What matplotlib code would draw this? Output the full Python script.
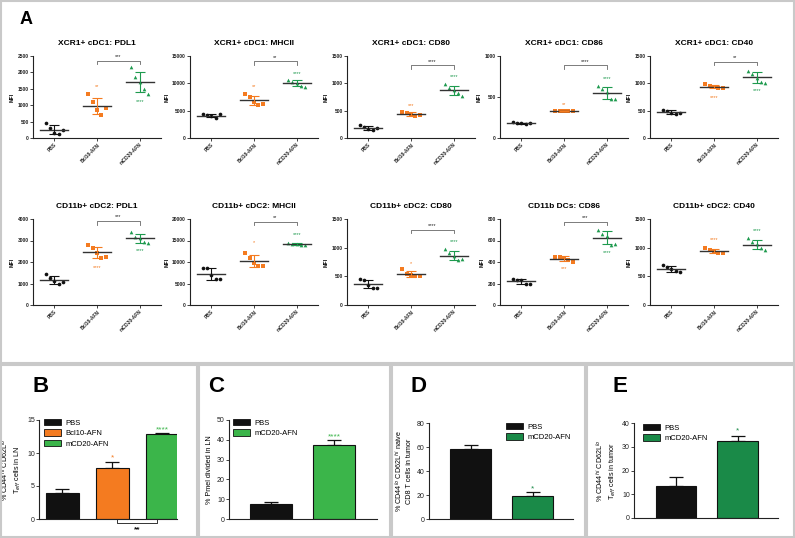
import matplotlib
matplotlib.use("Agg")
import matplotlib.pyplot as plt
from matplotlib.patches import Rectangle
import numpy as np

plt.rcParams['font.family'] = ['Liberation Sans', 'DejaVu Sans']

W, H = 795, 538
fig = plt.figure(figsize=(W / 100, H / 100), dpi=100)

# ---------------- data: panel A ----------------
groups = ["PBS", "Bcl10-AFN", "mCD20-AFN"]
titles = ["XCR1+ cDC1: PDL1", "XCR1+ cDC1: MHCII", "XCR1+ cDC1: CD80",
          "XCR1+ cDC1: CD86", "XCR1+ cDC1: CD40",
          "CD11b+ cDC2: PDL1", "CD11b+ cDC2: MHCII", "CD11b+ cDC2: CD80",
          "CD11b DCs: CD86", "CD11b+ cDC2: CD40"]
ymax = [2500, 15000, 1500, 1000, 1500, 4000, 20000, 1500, 800, 1500]
ystep = [500, 5000, 500, 500, 500, 1000, 5000, 500, 200, 500]
pbs_vals = [[450, 300, 150, 120, 250],
            [4300, 4200, 4000, 3700, 4300],
            [230, 210, 160, 150, 180],
            [190, 185, 180, 175, 178],
            [520, 500, 460, 440, 450],
            [1450, 1250, 1100, 1000, 1050],
            [8700, 8600, 7000, 6000, 6000],
            [450, 440, 350, 300, 300],
            [240, 235, 230, 200, 195],
            [690, 660, 630, 600, 570]]
bcl_vals = [[1350, 1100, 850, 700, 900],
            [8100, 7500, 6500, 6000, 6300],
            [480, 460, 430, 410, 420],
            [335, 330, 330, 328, 332],
            [990, 950, 930, 910, 920],
            [2800, 2650, 2400, 2200, 2250],
            [12100, 11000, 9800, 9000, 9000],
            [620, 540, 520, 510, 500],
            [450, 445, 440, 420, 400],
            [1000, 960, 930, 910, 900]]
cd20_vals = [[2150, 1850, 1700, 1500, 1350],
             [10700, 10300, 10000, 9600, 9300],
             [980, 920, 880, 830, 760],
             [640, 600, 560, 470, 480],
             [1230, 1170, 1100, 1030, 1010],
             [3400, 3150, 3100, 2950, 2900],
             [14500, 14300, 14100, 14000, 14000],
             [980, 900, 850, 780, 800],
             [700, 660, 640, 560, 570],
             [1160, 1100, 1060, 990, 960]]
bcl_star = [("**", 1560), ("**", 9500), ("***", 590), ("**", 410), ("****", 740),
            ("****", 1720), ("*", 14500), ("*", 730), ("***", 336), ("****", 1150)]
cd20_star = [("****", 1100), ("****", 11800), ("****", 1130), ("****", 730), ("****", 865),
             ("****", 2520), ("****", 16300), ("****", 1100), ("****", 488), ("****", 1300)]
bracket = [("***", 2350), ("**", 14000), ("****", 1330), ("****", 885), ("**", 1390),
           ("***", 3900), ("**", 19400), ("****", 1310), ("***", 775), None]

# ---------------- data: panels B-E ----------------
B_groups = ["PBS", "Bcl10-AFN", "mCD20-AFN"]
B_means = [4.0, 7.7, 12.9]
B_err = [0.6, 0.9, 0.15]
C_groups = ["PBS", "mCD20-AFN"]
C_means = [7.5, 37.2]
C_err = [1.0, 2.6]
D_groups = ["PBS", "mCD20-AFN"]
D_means = [58.0, 19.0]
D_err = [3.8, 3.8]
E_groups = ["PBS", "mCD20-AFN"]
E_means = [13.5, 32.3]
E_err = [3.7, 2.2]

BLACK = "#111111"
ORANGE = "#F47B20"
GREEN_A = "#1E9A4E"
GREEN_LT = "#3BB54A"
GREEN_DK = "#1A8A48"
col_A = [BLACK, ORANGE, GREEN_A]
markers = ["o", "s", "^"]


def ax_px(l, t, r, b):
    return fig.add_axes([l / W, 1 - b / H, (r - l) / W, (b - t) / H])


def style_axes(ax, fs):
    for s in ["top", "right"]:
        ax.spines[s].set_visible(False)
    for s in ["left", "bottom"]:
        ax.spines[s].set_linewidth(0.8)
        ax.spines[s].set_color("#222222")
    ax.tick_params(labelsize=fs, width=0.6, length=2, pad=1, colors="#222222")


# frame boxes
box_col = "#C9C9C9"
for (l, t, r, b) in [(1, 1, 794, 363), (1, 365, 197, 537), (199, 365, 390, 537),
                     (392, 365, 585, 537), (587, 365, 794, 537)]:
    fig.patches.append(Rectangle((l / W, 1 - b / H), (r - l) / W, (b - t) / H,
                                 transform=fig.transFigure, fill=False,
                                 edgecolor=box_col, lw=1.5))

# ---------------- Panel A ----------------
lefts = [33, 190, 347, 500, 650]
rows = [(56, 138), (219, 305)]
offs = np.array([-0.2, -0.1, 0.0, 0.1, 0.2])
fig.text(20 / W, 1 - 19 / H, "A", fontsize=13, fontweight="bold", ha="left", va="center")

for i in range(10):
    r, c = divmod(i, 5)
    t, b = rows[r]
    ax = ax_px(lefts[c], t, lefts[c] + 128, b)
    style_axes(ax, 3.5)
    ym = ymax[i]
    ax.set_xlim(-0.5, 2.5)
    ax.set_ylim(0, ym)
    ax.set_yticks(np.arange(0, ym + 1, ystep[i]))
    ax.set_xticks(range(3))
    ax.set_xticklabels(groups, rotation=45, ha="right", rotation_mode="anchor",
                       fontsize=3.5, fontweight="bold")
    for lab in ax.get_yticklabels():
        lab.set_fontweight("bold")
    ax.set_ylabel("MFI", fontsize=3.8, fontweight="bold", labelpad=2)
    ax.set_title(titles[i], fontsize=6, fontweight="bold", pad=8)
    for g, vals in enumerate([pbs_vals[i], bcl_vals[i], cd20_vals[i]]):
        v = np.array(vals, dtype=float)
        m, sd = v.mean(), v.std(ddof=1)
        ax.scatter(g + offs, v, marker=markers[g], s=7, color=col_A[g], zorder=3, lw=0)
        ax.plot([g - 0.33, g + 0.33], [m, m], color="#333333", lw=1.0, zorder=4)
        ax.errorbar([g], [m], yerr=[sd], color=col_A[g], lw=0.8, capsize=3.5,
                    capthick=0.8, zorder=4)
    s, y = bcl_star[i]
    ax.text(1, y, s, color=ORANGE, fontsize=4, ha="center", va="center")
    s, y = cd20_star[i]
    ax.text(2, y, s, color=GREEN_A, fontsize=4, ha="center", va="center")
    if bracket[i] is not None:
        s, y = bracket[i]
        tick = ym * 0.04
        ax.plot([1, 1, 2, 2], [y - tick, y, y, y - tick], color="#666666", lw=0.6,
                clip_on=False)
        ax.text(1.5, y + ym * 0.02, s, fontsize=4, ha="center", va="bottom", color="#222222")


# ---------------- Panels B-E ----------------
def bar_panel(rect, xlim, names, means, errs, colors, ylim, yticks, ylabel, legend_xy,
              stars, letter_xy, letter):
    ax = ax_px(*rect)
    style_axes(ax, 5)
    x = np.arange(len(names))
    ax.bar(x, means, width=0.66, color=colors, edgecolor="#111111", lw=0.8,
           label=None, zorder=2)
    ax.errorbar(x, means, yerr=[np.zeros(len(errs)), errs], fmt="none",
                ecolor="#111111", elinewidth=0.9, capsize=5, capthick=0.9, zorder=1)
    ax.set_xlim(*xlim)
    ax.set_ylim(*ylim)
    ax.set_yticks(yticks)
    ax.set_xticks([])
    ax.set_ylabel(ylabel, fontsize=5.2, labelpad=3, linespacing=1.2)
    handles = [Rectangle((0, 0), 1, 1, facecolor=cc, edgecolor="#111111", lw=0.6)
               for cc in colors]
    ax.legend(handles, names, loc="upper left",
              bbox_to_anchor=(legend_xy[0] / W, 1 - legend_xy[1] / H),
              bbox_transform=fig.transFigure, frameon=False, fontsize=5.5,
              handlelength=2.2, handleheight=0.9, handletextpad=0.6,
              labelspacing=0.35, borderpad=0, borderaxespad=0)
    for (gi, s, y, cc) in stars:
        ax.text(gi, y, s, color=cc, fontsize=6, ha="center", va="center")
    fig.text(letter_xy[0] / W, 1 - letter_xy[1] / H, letter, fontsize=16,
             fontweight="bold", ha="left", va="center")
    return ax


axB = bar_panel((39, 420, 177, 519), (-0.46, 2.3), B_groups, B_means, B_err,
                [BLACK, ORANGE, GREEN_LT], (0, 15), [0, 5, 10, 15],
                "% CD44$^{hi}$ CD62L$^{lo}$\nT$_{eff}$ cells in LN", (44, 419),
                [(1, "*", 9.3, ORANGE), (2, "****", 13.5, GREEN_LT)], (33, 387), "B")
# ** bracket below axis
yb = -0.55
axB.plot([1.1, 1.1, 1.9, 1.9], [0, yb, yb, 0], color="#333333", lw=0.7, clip_on=False)
axB.text(1.5, -1.1, "**", fontsize=6, ha="center", va="top", color="#111111",
         fontweight="bold")

bar_panel((229, 420, 377, 519), (-0.667, 1.68), C_groups, C_means, C_err,
          [BLACK, GREEN_LT], (0, 50), [0, 10, 20, 30, 40, 50],
          "% Pmel divided in LN", (233, 419),
          [(1, "****", 41.5, GREEN_LT)], (208, 387), "C")

bar_panel((429, 423, 573, 519), (-0.67, 1.65), D_groups, D_means, D_err,
          [BLACK, GREEN_DK], (0, 80), [0, 20, 40, 60, 80],
          "% CD44$^{lo}$ CD62L$^{hi}$ naive\nCD8 T cells in tumor", (506, 423),
          [(1, "*", 25.5, GREEN_DK)], (410, 387), "D")

bar_panel((634, 423, 778, 518), (-0.68, 1.65), E_groups, E_means, E_err,
          [BLACK, GREEN_DK], (0, 40), [0, 10, 20, 30, 40],
          "% CD44$^{hi}$ CD62L$^{lo}$\nT$_{eff}$ cells in tumor", (643, 424),
          [(1, "*", 36.8, GREEN_DK)], (612, 387), "E")

fig.savefig("out.png", dpi=100)
